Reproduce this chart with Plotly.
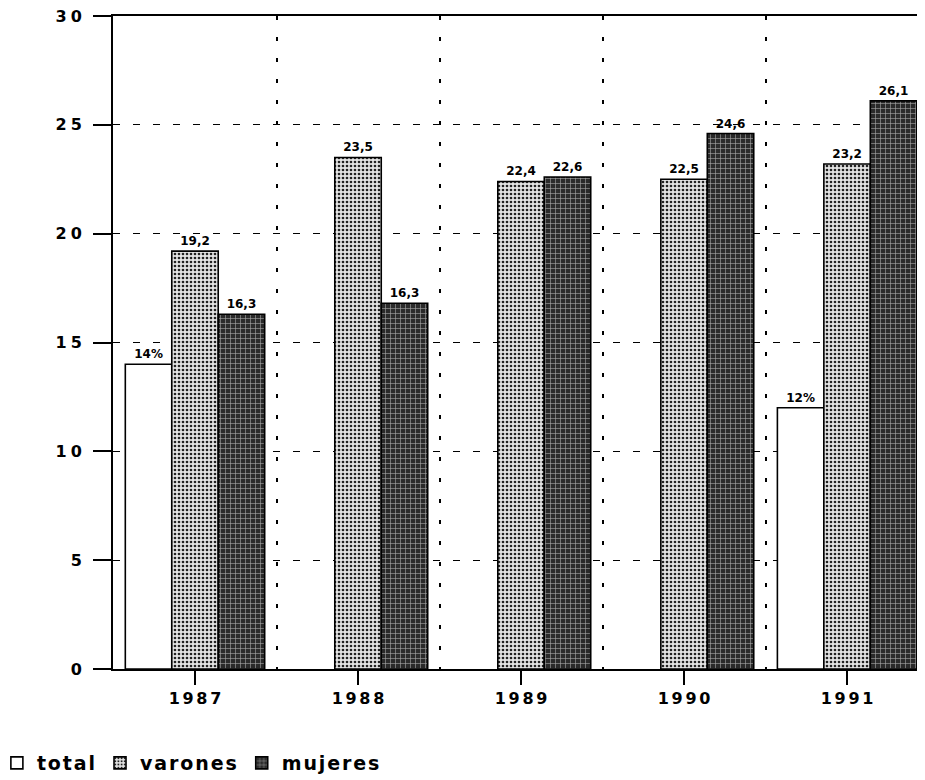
import plotly.graph_objects as go

# datos
anios = ["1987", "1988", "1989", "1990", "1991"]
total = [14, None, None, None, 12]
varones = [19.2, 23.5, 22.4, 22.5, 23.2]
mujeres = [16.3, 16.8, 22.6, 24.6, 26.1]
etiq_total = ["14%", "", "", "", "12%"]
etiq_varones = ["19,2", "23,5", "22,4", "22,5", "23,2"]
etiq_mujeres = ["16,3", "16,3", "22,6", "24,6", "26,1"]
yticks = [0, 5, 10, 15, 20, 25, 30]

FUENTE = "DejaVu Sans"


def espaciado(s, sep="\u2006"):
    return sep.join(list(s))


x = list(range(len(anios)))
borde = dict(color="black", width=1.6)
fig = go.Figure()

fig.add_trace(go.Bar(
    x=x, y=total, name=espaciado("total", "\u200a"),
    text=etiq_total, textposition="outside", constraintext="none", cliponaxis=False,
    textfont=dict(size=12, family=FUENTE, color="black"),
    marker=dict(color="white", line=borde),
))
fig.add_trace(go.Bar(
    x=x, y=varones, name=espaciado("varones", "\u200a"),
    text=etiq_varones, textposition="outside", constraintext="none", cliponaxis=False,
    textfont=dict(size=12, family=FUENTE, color="black"),
    marker=dict(color="#d8d8d8", line=borde,
                pattern=dict(shape=".", fillmode="replace", bgcolor="#e4e4e4",
                             fgcolor="#222222", size=4, solidity=0.35)),
))
fig.add_trace(go.Bar(
    x=x, y=mujeres, name=espaciado("mujeres", "\u200a"),
    text=etiq_mujeres, textposition="outside", constraintext="none", cliponaxis=False,
    textfont=dict(size=12, family=FUENTE, color="black"),
    marker=dict(color="#333333", line=borde,
                pattern=dict(shape="+", fillmode="replace", bgcolor="#2a2a2a",
                             fgcolor="#a8a8a8", size=5, solidity=0.22)),
))

# la pagina deja 8px de margen en el body: se compensa aqui
fig.update_layout(
    width=917, height=772,
    margin=dict(l=105, r=0, t=8, b=111, autoexpand=False),
    paper_bgcolor="white", plot_bgcolor="white",
    font=dict(family=FUENTE, color="black", weight="bold"),
    barmode="group", bargap=0.145, bargroupgap=0,
    showlegend=True,
    legend=dict(orientation="h", x=-0.143, xanchor="left", y=-0.144, yanchor="middle",
                font=dict(size=19, family=FUENTE, weight="bold"),
                itemwidth=30, tracegroupgap=0, bgcolor="rgba(0,0,0,0)"),
)

fig.update_xaxes(
    range=[-0.503, 4.478],
    tickmode="array", tickvals=x, ticktext=[espaciado(a) for a in anios],
    ticks="outside", ticklen=14, tickwidth=1.6, tickcolor="black",
    tickfont=dict(size=16, family=FUENTE, weight="bold"),
    showline=True, linecolor="black", linewidth=2, mirror=True,
    showgrid=False, zeroline=False,
    minor=dict(tickvals=[i + 0.5 for i in x[:-1]], showgrid=True,
               gridcolor="black", gridwidth=1.6, griddash="4px,17px", ticks=""),
)
fig.update_yaxes(
    range=[0, 30],
    tickmode="array", tickvals=yticks, ticktext=[espaciado(str(v), "\u2005") for v in yticks],
    ticks="outside", ticklen=18, tickwidth=1.6, tickcolor="black",
    ticklabelstandoff=8, ticklabeloverflow="allow",
    tickfont=dict(size=16, family=FUENTE, weight="bold"),
    showline=True, linecolor="black", linewidth=2, mirror=False,
    showgrid=True, gridcolor="black", gridwidth=1.4, griddash="7px,13px",
    zeroline=False,
)
# ticks que cruzan el eje hacia adentro
fig.update_layout(yaxis2=dict(
    overlaying="y", side="left", range=[0, 30], tickmode="array", tickvals=yticks,
    ticks="inside", ticklen=17, tickwidth=1.6, tickcolor="black",
    showticklabels=False, showgrid=False, zeroline=False, showline=False,
))

fig.write_html("out.html")
